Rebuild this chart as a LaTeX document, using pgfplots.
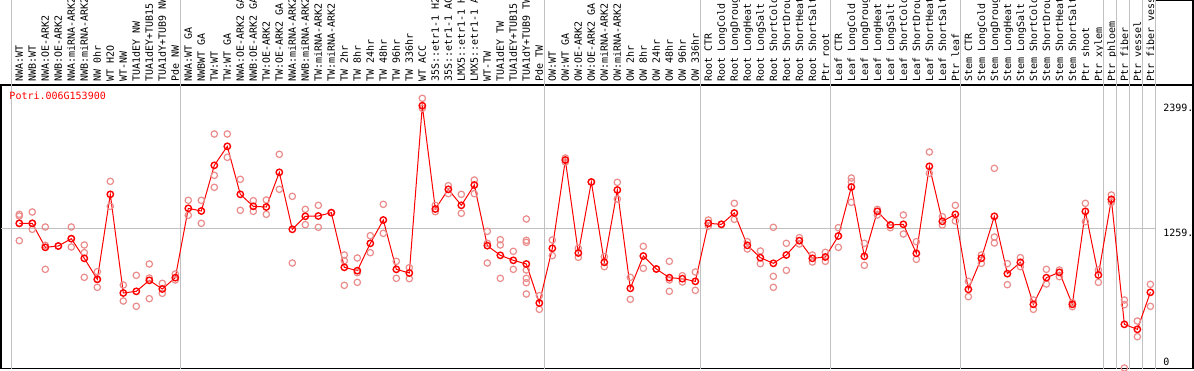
\documentclass[border=0pt]{standalone}
\usepackage{fontspec}
\setmainfont{DejaVu Sans Mono}
\usepackage{pgfplots}
\pgfplotsset{compat=1.18}
\definecolor{pred}{RGB}{255,0,0}
\definecolor{prep}{RGB}{234,140,140}
\definecolor{sepc}{RGB}{192,192,192}
\begin{document}
\begin{tikzpicture}[x=1bp,y=1bp]
\useasboundingbox (0,0) rectangle (1194,370);
\begin{axis}[
  at={(1bp,1.5bp)}, anchor=south west,
  scale only axis, width=1192bp, height=283.5bp,
  xmin=-0.4077, xmax=91.285, ymin=-4.5, ymax=2547,
  clip=false,
  axis line style={black, line width=1.2bp},
  ytick=\empty,
  xtick={1,...,88},
  xticklabel pos=upper,
  major tick length=0pt,
  xticklabel style={rotate=90, anchor=west, inner xsep=3bp, inner ysep=0pt,
    text height=7.3bp, text depth=0pt, font=\fontsize{10bp}{12bp}\selectfont},
  xticklabels={{NWA:WT},{NWB:WT},{NWA:OE-ARK2},{NWB:OE-ARK2},{NWA:miRNA-ARK2},{NWB:miRNA-ARK2},{NW 0hr},{WT H2O},{WT-NW},{TUA1dEY NW},{TUA1dEY+TUB15},{TUA1dY+TUB9 NW},{Pde NW},
  {NWA:WT GA},{NWBWT GA},{TW:WT},{TW:WT GA},{NWA:OE-ARK2 GA},{NWB:OE-ARK2 GA},{TW:OE-ARK2},{TW:OE-ARK2 GA},{NWA:miRNA-ARK2},{NWB:miRNA-ARK2},{TW:miRNA-ARK2},{TW:miRNA-ARK2},{TW 2hr},{TW 8hr},{TW 24hr},{TW 48hr},{TW 96hr},{TW 336hr},{WT ACC},{35S::etr1-1 H2},{35S::etr1-1 AC},{LMX5::etr1-1 H},{LMX5::etr1-1 A},{WT-TW},{TUA1dEY TW},{TUA1dEY+TUB15},{TUA1dY+TUB9 TW},{Pde TW},
  {OW:WT},{OW:WT GA},{OW:OE-ARK2},{OW:OE-ARK2 GA},{OW:miRNA-ARK2},{OW:miRNA-ARK2},{OW 2hr},{OW 8hr},{OW 24hr},{OW 48hr},{OW 96hr},{OW 336hr},
  {Root CTR},{Root LongCold},{Root LongDroug},{Root LongHeat},{Root LongSalt},{Root ShortCold},{Root ShortDrou},{Root ShortHeat},{Root ShortSalt},{Ptr root},
  {Leaf CTR},{Leaf LongCold},{Leaf LongDroug},{Leaf LongHeat},{Leaf LongSalt},{Leaf ShortCold},{Leaf ShortDrou},{Leaf ShortHeat},{Leaf ShortSalt},{Ptr leaf},
  {Stem CTR},{Stem LongCold},{Stem LongDroug},{Stem LongHeat},{Stem LongSalt},{Stem ShortCold},{Stem ShortDrou},{Stem ShortHeat},{Stem ShortSalt},{Ptr shoot},{Ptr xylem},
  {Ptr phloem},{Ptr fiber},{Ptr vessel},{Ptr fiber vess}},
]
% separators
\draw[sepc, line width=1bp] (axis cs:0.4,-4.5) -- (axis cs:0.4,3312);
\draw[sepc, line width=1bp] (axis cs:13.4,-4.5) -- (axis cs:13.4,3312);
\draw[sepc, line width=1bp] (axis cs:41.4,-4.5) -- (axis cs:41.4,3312);
\draw[sepc, line width=1bp] (axis cs:53.4,-4.5) -- (axis cs:53.4,3312);
\draw[sepc, line width=1bp] (axis cs:63.4,-4.5) -- (axis cs:63.4,3312);
\draw[sepc, line width=1bp] (axis cs:73.4,-4.5) -- (axis cs:73.4,3312);
\draw[sepc, line width=1bp] (axis cs:84.4,-4.5) -- (axis cs:84.4,3312);
\draw[sepc, line width=1bp] (axis cs:85.4,-4.5) -- (axis cs:85.4,3312);
\draw[sepc, line width=1bp] (axis cs:86.4,-4.5) -- (axis cs:86.4,3312);
\draw[sepc, line width=1bp] (axis cs:87.4,-4.5) -- (axis cs:87.4,3312);
\draw[sepc, line width=1bp] (axis cs:88.4,-4.5) -- (axis cs:88.4,3312);
\draw[sepc, line width=1bp] (axis cs:-0.4077,1259) -- (axis cs:88.4,1259);
\draw[black, line width=1.2bp] (axis cs:88.4,3307) -- (axis cs:91.285,3307) -- (axis cs:91.285,2547);
% replicates
\addplot[only marks, mark=o, mark size=3.2bp, color=prep, line width=1.2bp] table {
x y
1 1383
1 1368
1 1146
1 1302
2 1404
2 1248
2 1302
3 1269
3 1104
3 888
4 1098
5 1269
5 1164
5 1089
6 1107
6 1038
6 816
7 867
7 798
7 726
8 1680
8 1455
9 747
9 603
10 834
10 555
11 936
11 810
11 624
12 762
12 672
13 846
13 792
14 1509
14 1374
15 1509
15 1302
16 2106
16 1734
16 1626
17 2106
17 1896
18 1698
18 1419
19 1506
19 1410
20 1512
20 1383
21 1923
21 1608
22 1545
22 945
23 1428
23 1290
24 1464
24 1266
25 1398
26 1017
26 966
26 744
27 990
27 858
27 771
28 1191
28 1038
29 1473
29 1212
30 960
30 807
31 903
31 804
32 2427
32 2337
33 1464
33 1407
34 1641
34 1569
35 1563
35 1392
36 1692
36 1569
37 1230
37 1122
37 945
38 1155
38 1107
38 807
39 1050
39 888
40 1341
40 1149
40 1131
40 882
40 807
40 768
40 666
41 651
41 528
42 1152
42 1011
43 1890
43 1854
44 1077
44 996
45 1674
46 1002
46 912
47 1671
47 1521
48 816
48 618
49 1095
49 897
50 891
51 960
51 792
51 690
52 831
52 774
53 864
53 699
54 1332
54 1278
55 1293
56 1482
56 1338
57 1137
57 1071
58 1053
58 939
59 1266
59 825
59 726
60 1122
60 879
61 1173
61 1116
62 1017
62 954
63 1041
63 960
64 1263
64 1086
65 1710
65 1677
65 1491
66 1122
66 924
67 1428
67 1377
68 1263
68 1287
69 1377
69 1206
70 1137
70 978
71 1944
71 1752
72 1362
72 1287
73 1464
73 1323
74 780
74 642
75 1017
75 942
76 1797
76 1179
76 1125
77 939
77 750
78 993
78 912
79 612
79 528
80 888
80 756
81 882
81 822
82 588
82 552
83 1482
83 1317
84 882
84 771
85 1557
85 1491
86 612
86 570
86 0
87 423
87 282
88 753
88 555
};
% means
\addplot[color=pred, line width=1bp, mark=o, mark size=3.2bp, mark options={line width=1.4bp}] table {
x y
1 1302
2 1302
3 1086
4 1098
5 1164
6 987
7 798
8 1563
9 675
10 690
11 789
12 711
13 813
14 1437
15 1413
16 1824
17 1995
18 1563
19 1455
20 1449
21 1761
22 1248
23 1365
24 1368
25 1398
26 906
27 876
28 1122
29 1332
30 888
31 855
32 2361
33 1431
34 1608
35 1464
36 1647
37 1101
38 1014
39 969
40 936
41 585
42 1077
43 1872
44 1035
45 1674
46 951
47 1602
48 717
49 1008
50 891
51 813
52 804
53 780
54 1302
55 1293
56 1395
57 1104
58 993
59 942
60 1017
61 1146
62 987
63 999
64 1188
65 1629
66 1005
67 1410
68 1287
69 1293
70 1032
71 1815
72 1320
73 1383
74 708
75 987
76 1365
77 849
78 951
79 573
80 813
81 861
82 573
83 1410
84 837
85 1518
86 393
87 348
88 681
};
\node[anchor=west, inner sep=0pt, text=pred, text height=7.3bp, text depth=0pt, font=\fontsize{10bp}{12bp}\selectfont] at (axis cs:0.23,2448) {Potri.006G153900};
\node[anchor=west, inner sep=0pt, text height=7.3bp, text depth=0pt, font=\fontsize{10bp}{12bp}\selectfont] at (axis cs:88.98,2343) {2399.};
\node[anchor=west, inner sep=0pt, text height=7.3bp, text depth=0pt, font=\fontsize{10bp}{12bp}\selectfont] at (axis cs:88.98,1215) {1259.};
\node[anchor=west, inner sep=0pt, text height=7.3bp, text depth=0pt, font=\fontsize{10bp}{12bp}\selectfont] at (axis cs:88.98,56) {0};
\end{axis}
\end{tikzpicture}
\end{document}
